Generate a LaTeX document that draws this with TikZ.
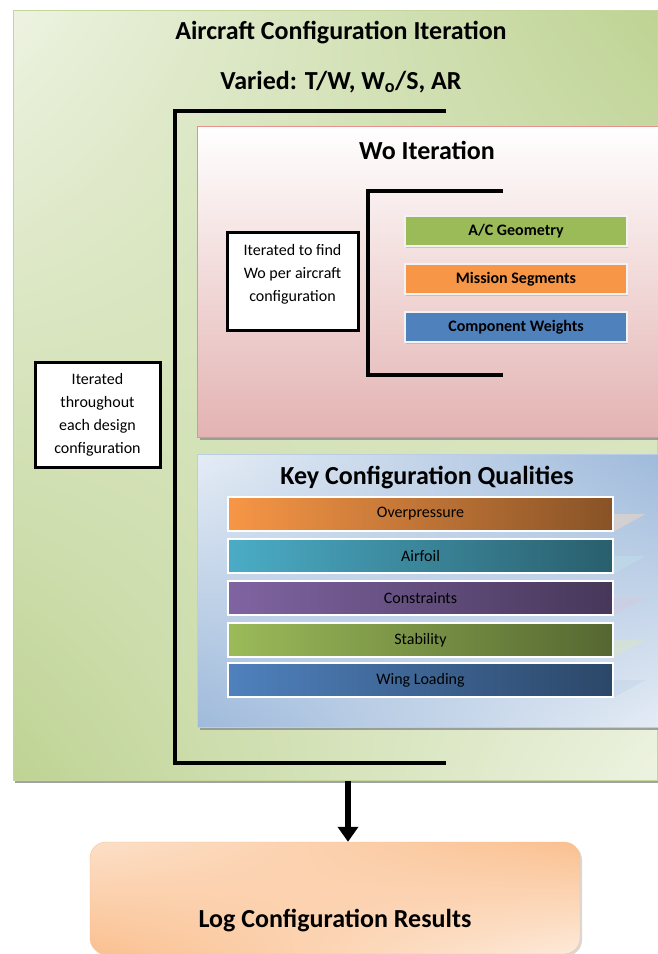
\documentclass[tikz,border=0pt]{standalone}
\usepackage{fontspec}
\setmainfont{Carlito}
\usetikzlibrary{arrows.meta, positioning, shadows, shadings}

\definecolor{acgreen}{HTML}{9BBB59}
\definecolor{msorange}{HTML}{F79646}
\definecolor{cwblue}{HTML}{4F81BD}
\definecolor{aquablue}{HTML}{4BACC6}
\definecolor{violet}{HTML}{8064A2}
\definecolor{rosepink}{HTML}{E3B3B2}

\begin{document}
\begin{tikzpicture}[x=1pt, y=-1pt, thick,
    panel/.style={rectangle, inner sep=0pt, drop shadow={shadow xshift=2pt, shadow yshift=-3pt, fill=black!45, opacity=.8}},
    head/.style={font=\fontsize{26}{30}\selectfont\bfseries},
    note box/.style={draw=black, line width=3pt, fill=white, align=center, font=\fontsize{16}{23}\selectfont},
    wo bar/.style={draw=black!5, line width=2.5pt, minimum width=222pt, minimum height=30pt, font=\fontsize{16}{18}\selectfont\bfseries, drop shadow={shadow xshift=1pt, shadow yshift=-2pt, fill=black!35}},
    key bar/.style={draw=white, line width=1.2pt, minimum width=385pt, minimum height=34pt, font=\fontsize{16}{18}\selectfont, left color=#1, right color=#1!55!black},
    glare/.style={fill=#1!35, opacity=.45, draw=none},
    bracket/.style={draw=black, line width=4pt}]

        \useasboundingbox (0,0) rectangle (657,954);

        % outer loop
        \node[panel, minimum width=644pt, minimum height=770pt, draw=acgreen!60, thin,
              upper left=acgreen!18, upper right=acgreen!65, lower left=acgreen!65, lower right=acgreen!18] (outer) at (335,395) {};
        \node[head] (title)  at (341,33) {Aircraft Configuration Iteration};
        \node[head] (varied) at (341,82) {Varied: T/W, W\textsubscript{o}/S, AR};

        \coordinate (ob1) at (446,111);
        \coordinate (ob2) at (175,111);
        \coordinate (ob3) at (175,763);
        \coordinate (ob4) at (446,763);
        \draw[bracket] (ob1) -- (ob2) -- (ob3) -- (ob4);

        \node[note box, minimum width=125pt, minimum height=105pt] (design) at (97.5,414.5)
            {Iterated\\throughout\\each design\\configuration};

        % Wo loop
        \node[panel, minimum width=462pt, minimum height=311pt, draw=rosepink!80!red, thin,
              top color=white, bottom color=rosepink] (wo) at (428.5,281.5) {};
        \node[head] (wotitle) at (427,150) {Wo Iteration};

        \coordinate (wb1) at (503,191);
        \coordinate (wb2) at (368,191);
        \coordinate (wb3) at (368,375);
        \coordinate (wb4) at (503,375);
        \draw[bracket] (wb1) -- (wb2) -- (wb3) -- (wb4);

        \node[note box, minimum width=131pt, minimum height=98pt] (wofind) at (292.5,281)
            {Iterated to find\\Wo per aircraft\\configuration\\[-6pt]};

        \node[wo bar, fill=acgreen]  (geom)    at (516,231) {A/C Geometry};
        \node[wo bar, fill=msorange] (mission) at (516,279) {Mission Segments};
        \node[wo bar, fill=cwblue]   (weights) at (516,327) {Component Weights};

        % qualities
        \node[panel, minimum width=462pt, minimum height=273pt, draw=cwblue!40, thin,
              upper left=cwblue!15, upper right=cwblue!55, lower left=cwblue!55, lower right=cwblue!15] (key) at (428.5,590.5) {};
        \node[head] (keytitle) at (427,478) {Key Configuration Qualities};

        \node[key bar=msorange] (press)   at (420.5,514) {Overpressure};
        \node[key bar=aquablue] (airfoil) at (420.5,556) {Airfoil};
        \node[key bar=violet]   (constr)  at (420.5,598) {Constraints};
        \node[key bar=acgreen]  (stab)    at (420.5,640) {Stability};
        \node[key bar=cwblue]   (wing)    at (420.5,680) {Wing Loading};

        \fill[glare=msorange] (press.east)   -- ++(32,0) -- (press.south east)   -- cycle;
        \fill[glare=aquablue] (airfoil.east) -- ++(32,0) -- (airfoil.south east) -- cycle;
        \fill[glare=violet]   (constr.east)  -- ++(32,0) -- (constr.south east)  -- cycle;
        \fill[glare=acgreen]  (stab.east)    -- ++(32,0) -- (stab.south east)    -- cycle;
        \fill[glare=cwblue]   (wing.east)    -- ++(32,0) -- (wing.south east)    -- cycle;

        % results
        \node[rectangle, rounded corners=16pt, minimum width=490pt, minimum height=112pt, draw=msorange!60, thin,
              upper left=msorange!30, upper right=msorange!60, lower left=msorange!60, lower right=msorange!20,
              drop shadow={shadow xshift=2pt, shadow yshift=-2pt, fill=black!30}] (logbox) at (335,898) {};
        \node[head] (logtext) at (335,921) {Log Configuration Results};

        \coordinate (arrowtop) at (348,781);
        \draw[-{Triangle[width=20pt,length=15pt]}, line width=6pt] (arrowtop) -- (arrowtop |- logbox.north);

\end{tikzpicture}
\end{document}
